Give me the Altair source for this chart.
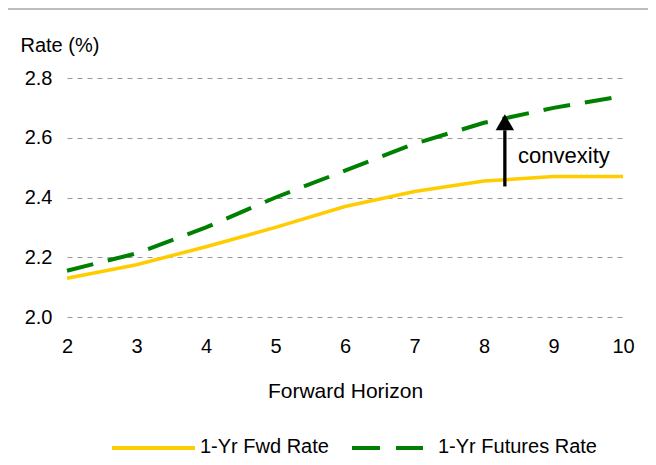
import altair as alt
import pandas as pd

horizon = [2, 3, 4, 5, 6, 7, 8, 9, 10]
fwd_rate = [2.13, 2.175, 2.235, 2.30, 2.37, 2.42, 2.455, 2.47, 2.47]
futures_rate = [2.155, 2.213, 2.30, 2.40, 2.49, 2.58, 2.65, 2.70, 2.74]
y_ticks = [2.0, 2.2, 2.4, 2.6, 2.8]
series_names = ["1-Yr Fwd Rate", "1-Yr Futures Rate"]
series_colors = ["#FFCC00", "#008000"]
arrow_x = [8.3]
arrow_from = [2.437]
arrow_to = [2.625]
arrow_head = [2.652]
label_x = [8.49]
label_y = [2.54]
label_text = ["convexity"]

FONT = "Liberation Sans"

df = pd.DataFrame({"h": horizon, "fwd": fwd_rate, "fut": futures_rate})

xs = alt.Scale(domain=[2, 10], nice=False, zero=False)
ys = alt.Scale(domain=[2.0, 2.8], nice=False, zero=False)

x_axis = alt.Axis(
    values=horizon, format="d", grid=False, domain=False, ticks=False, labelFlush=False,
    labelPadding=19, labelFontSize=20, labelFont=FONT, labelColor="black",
    title="Forward Horizon", titleFont=FONT, titleFontSize=21, titleFontWeight="normal",
    titleColor="black", titleY=80, titleBaseline="alphabetic",
)
y_axis = alt.Axis(
    values=y_ticks, format=".1f", grid=True, gridDash=[5, 5], gridColor="#999999",
    gridWidth=1, domain=False, ticks=False, labelPadding=15, labelFontSize=20,
    labelFont=FONT, labelColor="black", labelFlush=False,
    title="Rate (%)", titleFont=FONT, titleFontSize=20, titleFontWeight="normal",
    titleColor="black", titleAngle=0, titleAlign="left", titleBaseline="alphabetic",
    titleX=-47, titleY=-27,
)

base = alt.Chart(df)

fwd_line = base.mark_line(color=series_colors[0], strokeWidth=3.5).encode(
    x=alt.X("h:Q", scale=xs, axis=x_axis), y=alt.Y("fwd:Q", scale=ys, axis=y_axis)
)
fut_line = base.mark_line(color=series_colors[1], strokeWidth=4, strokeDash=[27, 15]).encode(
    x=alt.X("h:Q", scale=xs), y=alt.Y("fut:Q", scale=ys)
)

arr_df = pd.DataFrame({"x": arrow_x, "y1": arrow_from, "y2": arrow_to, "yh": arrow_head})
arrow_shaft = alt.Chart(arr_df).mark_rule(color="black", strokeWidth=3.3).encode(
    x=alt.X("x:Q", scale=xs), y=alt.Y("y1:Q", scale=ys), y2="y2:Q"
)
arrow_tip = alt.Chart(arr_df).mark_point(
    shape="triangle-up", filled=True, color="black", size=340, opacity=1
).encode(x=alt.X("x:Q", scale=xs), y=alt.Y("yh:Q", scale=ys))

lbl_df = pd.DataFrame({"x": label_x, "y": label_y, "t": label_text})
conv_text = alt.Chart(lbl_df).mark_text(
    align="left", baseline="middle", font=FONT, fontSize=22, color="black"
).encode(x=alt.X("x:Q", scale=xs), y=alt.Y("y:Q", scale=ys), text="t:N")

# top separator line
top_rule = alt.Chart(df).mark_rule(color="#bdbdbd", strokeWidth=2).encode(
    x=alt.value(-59), x2=alt.value(581), y=alt.value(-69)
)

# manual legend
leg_y = 370
leg1_line = alt.Chart(df).mark_rule(color=series_colors[0], strokeWidth=3.5).encode(
    x=alt.value(45), x2=alt.value(128), y=alt.value(leg_y)
)
leg2_line = alt.Chart(df).mark_rule(color=series_colors[1], strokeWidth=4, strokeDash=[28, 16]).encode(
    x=alt.value(285), x2=alt.value(356), y=alt.value(leg_y)
)
leg_df = pd.DataFrame({"t": series_names})
leg1_text = alt.Chart(leg_df.iloc[[0]]).mark_text(
    align="left", baseline="middle", font=FONT, fontSize=20, color="black"
).encode(x=alt.value(133), y=alt.value(leg_y - 1.5), text="t:N")
leg2_text = alt.Chart(leg_df.iloc[[1]]).mark_text(
    align="left", baseline="middle", font=FONT, fontSize=20, color="black"
).encode(x=alt.value(371), y=alt.value(leg_y - 1.5), text="t:N")

chart = alt.layer(
    fwd_line, top_rule, fut_line, arrow_shaft, arrow_tip, conv_text,
    leg1_line, leg2_line, leg1_text, leg2_text,
).properties(
    width=556, height=239,
    background="white",
    autosize=alt.AutoSizeParams(type="none"),
    padding={"left": 59, "top": 70, "right": 25, "bottom": 140},
).configure_view(stroke=None)

chart.save("out.html", embed_options={"renderer": "svg", "actions": False})
